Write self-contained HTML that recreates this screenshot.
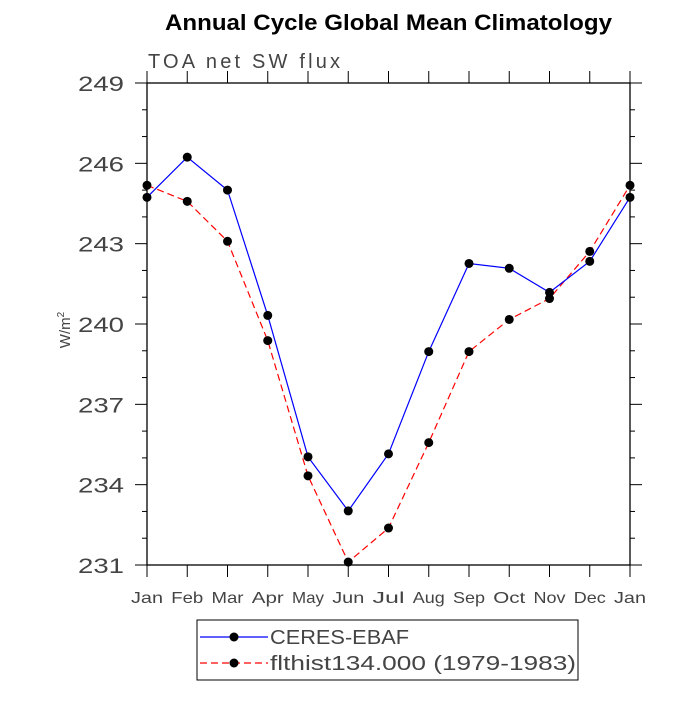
<!DOCTYPE html>
<html><head><meta charset="utf-8"><style>
body{margin:0;background:#fff}
text{font-family:"Liberation Sans",sans-serif}
</style></head><body>
<svg id="c" width="700" height="700" xmlns="http://www.w3.org/2000/svg"></svg>
<script>
const months=["Jan","Feb","Mar","Apr","May","Jun","Jul","Aug","Sep","Oct","Nov","Dec","Jan"];
const ceres=[244.73,246.23,245.0,240.32,235.04,233.02,235.15,238.97,242.26,242.08,241.18,242.34,244.73];
const model=[245.18,244.58,243.09,239.38,234.33,231.11,232.38,235.57,238.97,240.17,240.95,242.71,245.18];
const yTicks=[231,234,237,240,243,246,249];
const NS="http://www.w3.org/2000/svg";
const svg=document.getElementById('c');
const L=147,R=630,T=83,B=565,yMin=231,yMax=249;
const x=i=>L+(R-L)*i/(months.length-1);
const y=v=>B-(B-T)*(v-yMin)/(yMax-yMin);
function mk(tag,attrs,name,parent){const e=document.createElementNS(NS,tag);for(const k in attrs)e.setAttribute(k,attrs[k]);


(parent||svg).appendChild(e);return e;}
function txt(s,attrs,name){const e=mk('text',attrs,name);e.textContent=s;return e;}
txt("Annual Cycle Global Mean Climatology",{x:165,y:30,'font-size':22,'font-weight':'bold',textLength:447,lengthAdjust:'spacingAndGlyphs'},'chart-title');
txt("TOA net SW flux",{x:148,y:68,'font-size':20,fill:'#444',textLength:192,lengthAdjust:'spacing'},'subtitle');
mk('rect',{x:L,y:T,width:R-L,height:B-T,fill:'none',stroke:'#000','stroke-width':1.3},'plot-frame');
for(let v=yMin;v<=yMax;v++){const major=(v-yMin)%3===0;const len=major?12:5;const yy=y(v);
mk('line',{x1:L-len,x2:L,y1:yy,y2:yy,stroke:'#000'},'y-tick-left');
mk('line',{x1:R,x2:R+len,y1:yy,y2:yy,stroke:'#000'},'y-tick-right');}
yTicks.forEach(v=>txt(String(v),{x:78,y:y(v)+8,'font-size':21,fill:'#444',textLength:46,lengthAdjust:'spacingAndGlyphs'},'y-tick-label'));
months.forEach((m,i)=>{const xx=x(i);
mk('line',{x1:xx,x2:xx,y1:B,y2:B+12,stroke:'#000'},'x-tick-bottom');
mk('line',{x1:xx,x2:xx,y1:T-12,y2:T,stroke:'#000'},'x-tick-top');
txt(m,{x:xx-16,y:603,'font-size':16,fill:'#444',textLength:32,lengthAdjust:'spacingAndGlyphs'},'x-tick-label');});
const yt=txt("W/m",{x:0,y:0,'font-size':15,fill:'#444','text-anchor':'middle',transform:'translate(70,330) rotate(-90)'},'y-axis-title');
const sup=document.createElementNS(NS,'tspan');sup.setAttribute('font-size','10');sup.setAttribute('dy','-6');sup.textContent='2';yt.appendChild(sup);
function series(vals,color,dash,name){
mk('polyline',{points:vals.map((v,i)=>x(i)+','+y(v)).join(' '),fill:'none',stroke:color,'stroke-width':1.2,'stroke-dasharray':dash},name+'-line');
vals.forEach((v,i)=>mk('circle',{cx:x(i),cy:y(v),r:4.5,fill:'#000'},name+'-point'));}
series(model,'#f00','7,4','model');
series(ceres,'#00f','none','ceres');
mk('rect',{x:197,y:620,width:381,height:60,fill:'#fff',stroke:'#000'},'legend-box');
mk('line',{x1:200,x2:268,y1:637,y2:637,stroke:'#00f','stroke-width':1.2},'legend-ceres-line');
mk('circle',{cx:234,cy:637,r:4.5},'legend-ceres-marker');
txt("CERES-EBAF",{x:270,y:644,'font-size':20,fill:'#444',textLength:139,lengthAdjust:'spacingAndGlyphs'},'legend-ceres-label');
mk('line',{x1:200,x2:268,y1:663,y2:663,stroke:'#f00','stroke-width':1.2,'stroke-dasharray':'7,4'},'legend-model-line');
mk('circle',{cx:234,cy:663,r:4.5},'legend-model-marker');
txt("flthist134.000 (1979-1983)",{x:270,y:670,'font-size':20,fill:'#444',textLength:306,lengthAdjust:'spacingAndGlyphs'},'legend-model-label');
</script>
</body></html>
